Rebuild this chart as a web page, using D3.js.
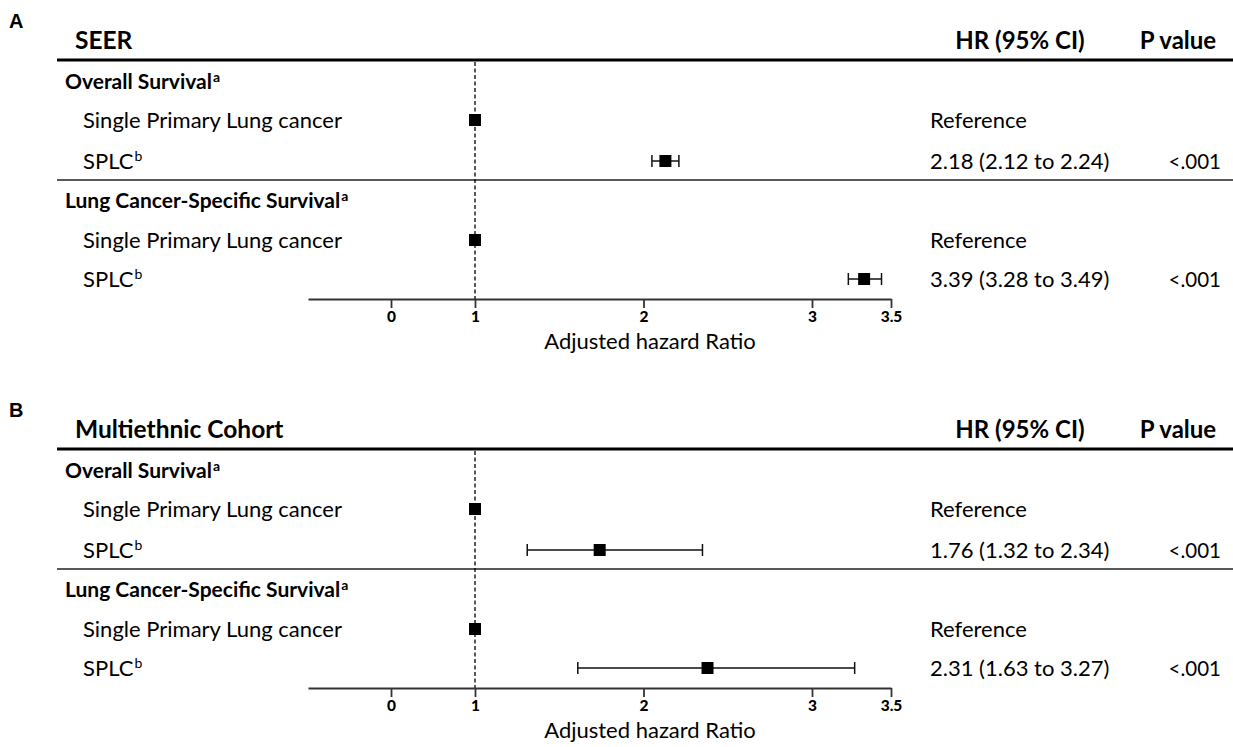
<!DOCTYPE html>
<html>
<head>
<meta charset="utf-8">
<script src="https://cdn.jsdelivr.net/npm/d3@7"></script>
<style>
  body { margin: 0; background: #fff; }
  text { font-family: Lato, "Open Sans", sans-serif; fill: #000; }
</style>
</head>
<body>
<svg id="chart" width="1233" height="747"></svg>
<script>
// data
const panelLetters = ["A", "B"];
const cohorts = ["SEER", "Multiethnic Cohort"];
const groups = ["Overall Survival", "Lung Cancer-Specific Survival"];
const rowLabels = ["Single Primary Lung cancer", "SPLC", "Single Primary Lung cancer", "SPLC"];
const rowSup = ["", "b", "", "b"];

// estimated positions of the plotted marks
const estA = [1, 2.13, 1, 3.33];
const loA  = [null, 2.05, null, 3.23];
const hiA  = [null, 2.21, null, 3.44];
const estB = [1, 1.74, 1, 2.38];
const loB  = [null, 1.31, null, 1.61];
const hiB  = [null, 2.35, null, 3.27];

const hrA = ["Reference", "2.18 (2.12 to 2.24)", "Reference", "3.39 (3.28 to 3.49)"];
const pA  = ["", "<.001", "", "<.001"];
const hrB = ["Reference", "1.76 (1.32 to 2.34)", "Reference", "2.31 (1.63 to 3.27)"];
const pB  = ["", "<.001", "", "<.001"];

const tickVals = [0, 1, 2, 3, 3.5];

const svg = d3.select("#chart");

// axis is drawn with a broken start: the "0" tick sits half a unit left of 1
const x = d3.scaleLinear()
    .domain([-1, 0, 1, 3, 3.5])
    .range([308, 391, 475, 812, 891]);

const drawPanel = (letter, cohort, est, lo, hi, hr, pv, dy) => {
    const g = svg.append("g").attr("transform", `translate(0, ${dy})`);

    g.append("text")
        .attr("x", 9).attr("y", 28)
        .style("font-family", "'Liberation Sans', Arial, sans-serif")
        .style("font-weight", "bold").style("font-size", "20px")
        .text(letter);

    // header
    g.append("text").attr("x", 75).attr("y", 49)
        .style("font-weight", "bold").style("font-size", "24.5px").text(cohort);
    g.append("text").attr("x", 1020).attr("y", 49).attr("text-anchor", "middle")
        .style("font-weight", "bold").style("font-size", "24px").text("HR (95% CI)");
    g.append("text").attr("x", 1178).attr("y", 49).attr("text-anchor", "middle")
        .style("font-weight", "bold").style("font-size", "24px").text("P value");

    g.append("line").attr("x1", 57).attr("x2", 1233).attr("y1", 60).attr("y2", 60)
        .attr("stroke", "#000").attr("stroke-width", 2.8);

    // rows: group header + two rows, twice
    const rowY = [120, 161, 240, 279];
    const groupY = [82, 201];

    groups.forEach((gr, i) => {
        const t = g.append("text").attr("x", 65).attr("y", groupY[i] + 7)
            .style("font-weight", "bold").style("font-size", "21px");
        t.append("tspan").text(gr);
        t.append("tspan").attr("dx", 1).attr("dy", -7).style("font-size", "14px").text("a");
    });

    g.append("line").attr("x1", 57).attr("x2", 1233).attr("y1", 180).attr("y2", 180)
        .attr("stroke", "#222").attr("stroke-width", 1.6);

    // reference line at HR = 1
    g.append("line").attr("x1", x(1)).attr("x2", x(1)).attr("y1", 62).attr("y2", 299)
        .attr("stroke", "#000").attr("stroke-width", 1.3).attr("stroke-dasharray", "4,2.5");

    rowLabels.forEach((lab, i) => {
        const t = g.append("text").attr("x", 83).attr("y", rowY[i] + 8).style("font-size", "22px");
        t.append("tspan").text(lab);
        if (rowSup[i]) t.append("tspan").attr("dx", 1).attr("dy", -8).style("font-size", "14px").text(rowSup[i]);

        g.append("text").attr("x", 930).attr("y", rowY[i] + 8).style("font-size", "22px").text(hr[i]);
        if (pv[i]) g.append("text").attr("x", 1221).attr("y", rowY[i] + 8)
            .attr("text-anchor", "end").style("font-size", "20.5px").text(pv[i]);
    });

    // error bars
    const ci = g.append("g");
    est.forEach((e, i) => {
        const y = rowY[i];
        if (lo[i] != null) {
            ci.append("line").attr("x1", x(lo[i])).attr("x2", x(hi[i])).attr("y1", y).attr("y2", y)
                .attr("stroke", "#111").attr("stroke-width", 1.5);
            [lo[i], hi[i]].forEach(v => {
                ci.append("line").attr("x1", x(v)).attr("x2", x(v)).attr("y1", y - 6).attr("y2", y + 6)
                    .attr("stroke", "#111").attr("stroke-width", 1.5);
            });
        }
        ci.append("rect").attr("x", x(e) - 6).attr("y", y - 6)
            .attr("width", 12).attr("height", 12).attr("fill", "#000");
    });

    // axis
    const axis = d3.axisBottom(x)
        .tickValues(tickVals)
        .tickSize(9)
        .tickSizeOuter(0)
        .tickFormat(d3.format(""));
    const ax = g.append("g").attr("transform", "translate(0, 299)").call(axis);
    ax.select(".domain").attr("stroke", "#333").attr("stroke-width", 1.8);
    ax.selectAll(".tick line").attr("stroke", "#333").attr("stroke-width", 1.8);
    ax.selectAll(".tick text")
        .attr("y", 12)
        .style("font-family", "Lato, sans-serif")
        .style("font-weight", "900").style("font-size", "15.5px").attr("fill", "#000");

    g.append("text").attr("x", 650).attr("y", 349).attr("text-anchor", "middle")
        .style("font-size", "22px").text("Adjusted hazard Ratio");
};

drawPanel(panelLetters[0], cohorts[0], estA, loA, hiA, hrA, pA, 0);
drawPanel(panelLetters[1], cohorts[1], estB, loB, hiB, hrB, pB, 389);
</script>
</body>
</html>
